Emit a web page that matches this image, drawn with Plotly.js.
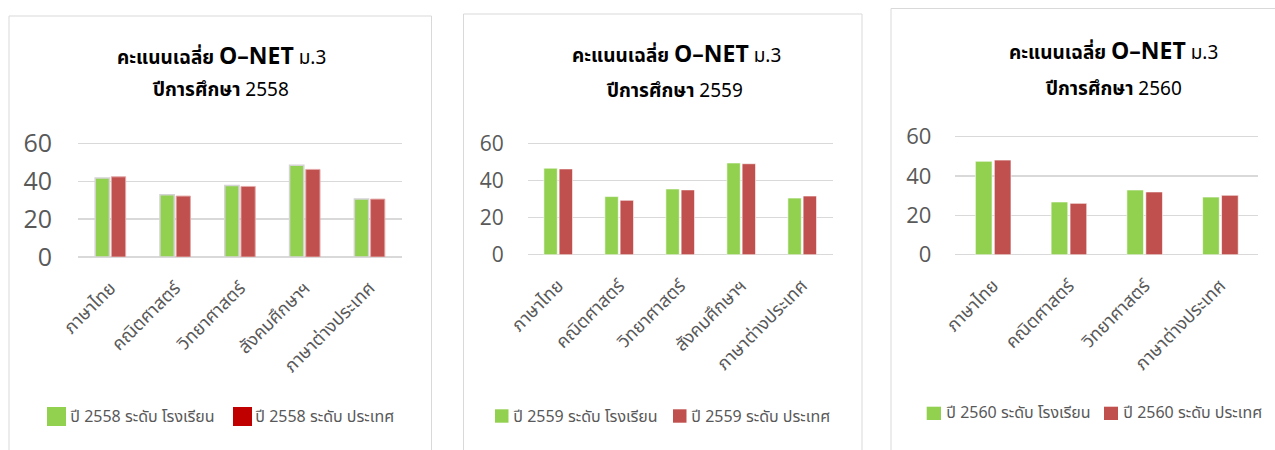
<!DOCTYPE html>
<html><head><meta charset="utf-8">
<script src="https://cdn.plot.ly/plotly-3.0.1.min.js"></script>
<style>html,body{margin:0;padding:0;background:#fff;}#chart{width:1275px;height:450px;}</style>
</head><body><div id="chart"></div>
<script>
// ---- data ----
const categories2558 = ['ภาษาไทย','คณิตศาสตร์','วิทยาศาสตร์','สังคมศึกษาฯ','ภาษาต่างประเทศ'];
const categories2559 = ['ภาษาไทย','คณิตศาสตร์','วิทยาศาสตร์','สังคมศึกษาฯ','ภาษาต่างประเทศ'];
const categories2560 = ['ภาษาไทย','คณิตศาสตร์','วิทยาศาสตร์','ภาษาต่างประเทศ'];
const school2558 = [41.8, 32.9, 37.8, 48.5, 30.6];
const nation2558 = [42.4, 32.2, 37.3, 46.3, 30.6];
const school2559 = [46.6, 31.3, 35.4, 49.4, 30.5];
const nation2559 = [46.2, 29.3, 34.9, 49.0, 31.6];
const school2560 = [47.5, 26.8, 32.9, 29.3];
const nation2560 = [48.1, 26.1, 31.9, 30.2];
const years = ['2558','2559','2560'];
const yTickVals = [0, 20, 40, 60];
const yTickText = ['0', '20', '40', '60'];
const titleLine1 = 'คะแนนเฉลี่ย';
const titleBrand = 'O–NET';
const titleLevel = 'ม.3';
const titleLine2 = 'ปีการศึกษา';
const schoolLabel = 'ระดับ โรงเรียน';
const nationLabel = 'ระดับ ประเทศ';

// ---- helpers ----
const W = 1275, H = 450;
const px = x => x / W;
const py = y => 1 - y / H;
const GREEN = '#92d050', RED = '#c0504d';
const FONT = '"Noto Sans Thai", "Noto Sans", "Open Sans", sans-serif';
const GRAY = '#595959';
const YMAX = 61; // a little headroom so the 60 gridline is drawn

// dom: [left, right, y-pixel of value 60, y-pixel of value 0]
const panels = [
  {cats: categories2558, s: school2558, n: nation2558, year: years[0],
   dom: [78, 402, 143.5, 257], ytick: 25, ysoff: 25, box: [9, 16, 431.5, 460],
   t1: [221, 57], t2: [220, 91],
   leg: {g: [47, 66, 407, 426], gt: 68, r: [233, 252, 407, 426], rt: 253, ty: 417, rc: '#c00000'},
   gline: {color: '#d4d4d4', width: 1.5}, rline: {color: '#e3a9a8', width: 1}},
  {cats: categories2559, s: school2559, n: nation2559, year: years[1],
   dom: [527.7, 832.7, 143.3, 254.7], ytick: 21, ysoff: 23, box: [463.5, 14, 862, 460],
   t1: [676, 55], t2: [674, 91.5],
   leg: {g: [495, 508.5, 409.3, 422.7], gt: 511, r: [673, 686.5, 409.3, 422.7], rt: 689, ty: 416.5, rc: RED},
   gline: {color: 'rgba(255,255,255,0.6)', width: 1}, rline: {color: 'rgba(255,255,255,0.6)', width: 1}},
  {cats: categories2560, s: school2560, n: nation2560, year: years[2],
   dom: [955.3, 1258.3, 136.7, 254.7], ytick: 22, ysoff: 23, box: [891, 8.5, 1290, 460],
   t1: [1113, 52], t2: [1113, 89.5],
   leg: {g: [926.7, 941, 406.7, 420], gt: 944, r: [1104, 1118, 406.7, 420], rt: 1121, ty: 413.3, rc: RED},
   gline: {color: 'rgba(255,255,255,0.6)', width: 1}, rline: {color: 'rgba(255,255,255,0.6)', width: 1}}
];

const data = [];
const layout = {
  width: W, height: H, margin: {l: 0, r: 0, t: 0, b: 0},
  paper_bgcolor: '#fff', plot_bgcolor: 'rgba(0,0,0,0)',
  showlegend: false, barmode: 'group', bargap: 0.5, bargroupgap: 0.12,
  font: {family: FONT, color: GRAY},
  shapes: [], annotations: []
};

panels.forEach((p, i) => {
  const k = i === 0 ? '' : String(i + 1);
  const xa = 'x' + k, ya = 'y' + k;
  data.push({type: 'bar', x: p.cats, y: p.s, xaxis: xa, yaxis: ya,
    name: 'ปี ' + p.year + ' ' + schoolLabel,
    marker: {color: GREEN, line: p.gline}, hoverinfo: 'x+y'});
  data.push({type: 'bar', x: p.cats, y: p.n, xaxis: xa, yaxis: ya,
    name: 'ปี ' + p.year + ' ' + nationLabel,
    marker: {color: RED, line: p.rline}, hoverinfo: 'x+y'});
  const unit = (p.dom[3] - p.dom[2]) / 60;
  const topPx = p.dom[2] - (YMAX - 60) * unit;
  layout['xaxis' + k] = {
    domain: [px(p.dom[0]), px(p.dom[1])], anchor: ya,
    tickangle: -45, showgrid: false, zeroline: false, showline: false, ticks: '',
    tickfont: {family: FONT, size: 18, color: GRAY}, fixedrange: true, ticklabelstandoff: 16
  };
  layout['yaxis' + k] = {
    domain: [py(p.dom[3]), py(topPx)], anchor: xa,
    range: [0, YMAX], tickvals: yTickVals, ticktext: yTickText,
    showgrid: true, gridcolor: '#d9d9d9', gridwidth: 1.5,
    zeroline: true, zerolinecolor: '#d9d9d9', zerolinewidth: 1.5,
    showline: false, ticks: '',
    tickfont: {family: '"Open Sans", sans-serif', size: p.ytick, color: GRAY},
    ticklabelstandoff: p.ysoff, fixedrange: true
  };
  // panel frame
  layout.shapes.push({type: 'rect', xref: 'paper', yref: 'paper',
    x0: px(p.box[0]), x1: px(p.box[2]), y0: py(p.box[3]), y1: py(p.box[1]),
    line: {color: '#d9d9d9', width: 1}, fillcolor: 'rgba(0,0,0,0)', layer: 'below'});
  // titles
  layout.annotations.push({xref: 'paper', yref: 'paper', x: px(p.t1[0]), y: py(p.t1[1]),
    xanchor: 'center', yanchor: 'middle', showarrow: false,
    text: '<b>' + titleLine1 + ' <span style="font-size:23px">' + titleBrand + '</span></b> ' + titleLevel,
    font: {family: FONT, size: 19, color: '#000'}});
  layout.annotations.push({xref: 'paper', yref: 'paper', x: px(p.t2[0]), y: py(p.t2[1]),
    xanchor: 'center', yanchor: 'middle', showarrow: false,
    text: '<b>' + titleLine2 + '</b> ' + p.year,
    font: {family: FONT, size: 19, color: '#000'}});
  // legend
  const L = p.leg;
  layout.shapes.push({type: 'rect', xref: 'paper', yref: 'paper',
    x0: px(L.g[0]), x1: px(L.g[1]), y0: py(L.g[3]), y1: py(L.g[2]),
    line: {width: 0}, fillcolor: GREEN});
  layout.shapes.push({type: 'rect', xref: 'paper', yref: 'paper',
    x0: px(L.r[0]), x1: px(L.r[1]), y0: py(L.r[3]), y1: py(L.r[2]),
    line: {width: 0}, fillcolor: L.rc});
  layout.annotations.push({xref: 'paper', yref: 'paper', x: px(L.gt), y: py(L.ty),
    xanchor: 'left', yanchor: 'middle', showarrow: false,
    text: 'ปี ' + p.year + ' ' + schoolLabel, font: {family: FONT, size: 16, color: GRAY}});
  layout.annotations.push({xref: 'paper', yref: 'paper', x: px(L.rt), y: py(L.ty),
    xanchor: 'left', yanchor: 'middle', showarrow: false,
    text: 'ปี ' + p.year + ' ' + nationLabel, font: {family: FONT, size: 16, color: GRAY}});
});

Plotly.newPlot('chart', data, layout, {displayModeBar: false, staticPlot: true});
</script></body></html>
